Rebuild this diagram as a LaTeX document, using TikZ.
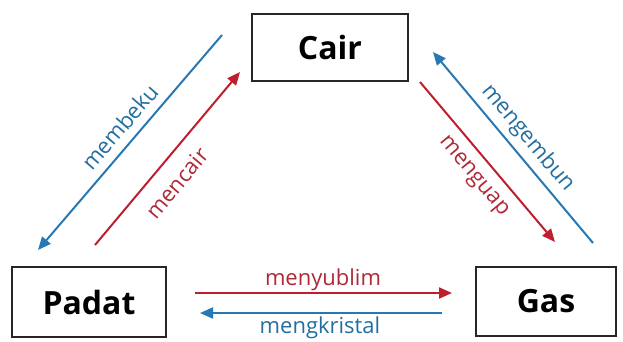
\documentclass[tikz,border=0pt]{standalone}
\usepackage{fontspec}
\setmainfont{Open Sans}
\usetikzlibrary{arrows.meta}
\definecolor{arred}{RGB}{190,30,45}
\definecolor{arblue}{RGB}{40,120,180}
\definecolor{txred}{RGB}{175,40,55}
\definecolor{txblue}{RGB}{35,110,160}
\tikzset{
  statebox/.style={draw=black!85, line width=2.4pt, inner sep=0pt, font=\fontsize{32}{36}\selectfont\bfseries},
  redarrow/.style={draw=arred, line width=2pt, -{Triangle[length=13pt,width=11pt]}},
  bluearrow/.style={draw=arblue, line width=2pt, -{Triangle[length=13pt,width=11pt]}},
  redlabel/.style={text=txred, inner sep=0pt, font=\fontsize{22}{24}\selectfont},
  bluelabel/.style={text=txblue, inner sep=0pt, font=\fontsize{22}{24}\selectfont},
}
\begin{document}
\begin{tikzpicture}[x=1pt,y=-1pt]
\useasboundingbox (0,0) rectangle (623,342);
\node[statebox, minimum width=156pt, minimum height=67pt] (cair) at (330,47.5) {Cair};
\node[statebox, minimum width=154pt, minimum height=70pt] (padat) at (89,302) {Padat};
\node[statebox, minimum width=140pt, minimum height=69pt] (gas) at (546,301.5) {Gas};
% free ends of the connectors
\coordinate (bl1) at (222,35);  \coordinate (bl2) at (38,250);
\coordinate (rl1) at (95,245);  \coordinate (rl2) at (240,72);
\coordinate (br1) at (593,243); \coordinate (br2) at (433,52);
\coordinate (rr1) at (420,82);  \coordinate (rr2) at (555,242);
\coordinate (rh1) at (195,293); \coordinate (rh2) at (452,293);
\coordinate (bh1) at (442,313); \coordinate (bh2) at (200,313);
\draw[bluearrow] (bl1) -- (bl2);
\draw[redarrow] (rl1) -- (rl2);
\draw[bluearrow] (br1) -- (br2);
\draw[redarrow] (rr1) -- (rr2);
\draw[redarrow] (rh1) -- (rh2);
\draw[bluearrow] (bh1) -- (bh2);
\node[bluelabel, rotate=49.4] (membeku) at (120,127) {membeku};
\node[redlabel, rotate=50] (mencair) at (177,183) {mencair};
\node[bluelabel, rotate=-50] (mengembun) at (528,138) {mengembun};
\node[redlabel, rotate=-50] (menguap) at (473,177) {menguap};
\node[redlabel, anchor=base] (menyublim) at (323,285) {menyublim};
\node[bluelabel, anchor=base] (mengkristal) at (320,333) {mengkristal};
\end{tikzpicture}
\end{document}
